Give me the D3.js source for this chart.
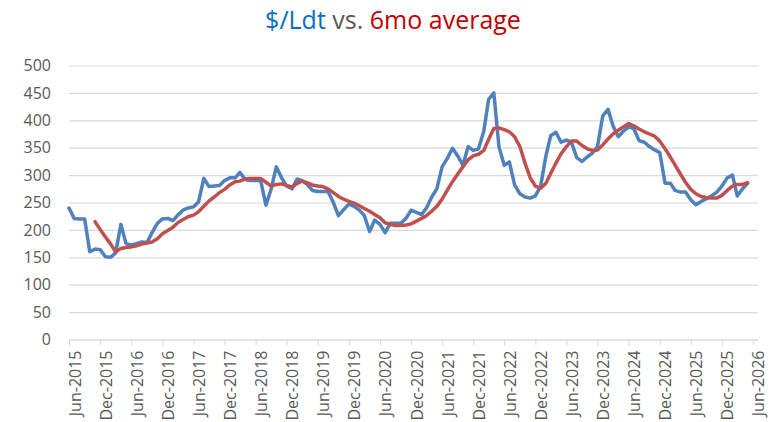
<!DOCTYPE html>
<html>
<head>
<meta charset="utf-8">
<script src="https://cdn.jsdelivr.net/npm/d3@7"></script>
<style>
  body { margin: 0; background: #fff; }
  svg { display: block; font-family: "Open Sans", sans-serif; }
</style>
</head>
<body>
<div id="container"></div>
<script>
// monthly series, first point = Jun-2015
const startMonth = "Jun-2015"
const priceValues = [
  240, 221, 220, 220, 160, 165, 164, 151, 150, 158,
  210, 175, 172, 175, 178, 177, 195, 212, 220, 221,
  217, 227, 236, 240, 242, 251, 294, 279, 280, 281,
  290, 295, 295, 305, 292, 290, 290, 290, 245, 275,
  315, 295, 280, 275, 293, 290, 283, 272, 270, 270,
  270, 250, 226, 237, 247, 243, 236, 226, 197, 218,
  210, 195, 212, 212, 212, 221, 236, 232, 228, 240,
  260, 275, 315, 330, 349, 335, 318, 352, 345, 348,
  380, 438, 450, 352, 318, 324, 282, 266, 260, 258,
  262, 280, 335, 372, 378, 360, 364, 360, 332, 325,
  333, 340, 352, 408, 420, 390, 370, 380, 388, 385,
  363, 360, 352, 346, 341, 285, 285, 272, 269, 269,
  255, 246, 252, 257, 262, 269, 280, 295, 300, 262,
  275, 285
]
const avgValues = [
  null, null, null, null, null, 215, 201, 187, 174, 160,
  166, 168, 169, 171, 174, 176, 178, 184, 193, 199,
  205, 213, 219, 224, 227, 233, 243, 253, 260, 268,
  274, 282, 288, 289, 293, 294, 294, 294, 287, 280,
  283, 284, 281, 278, 285, 289, 286, 282, 280, 279,
  275, 268, 261, 256, 252, 249, 244, 239, 234, 228,
  222, 213, 210, 208, 208, 209, 211, 216, 221, 226,
  234, 243, 256, 272, 288, 302, 315, 328, 335, 338,
  345, 365, 385, 386, 383, 379, 370, 352, 322, 295,
  280, 276, 285, 303, 322, 339, 352, 362, 362, 354,
  348, 345, 346, 355, 366, 375, 382, 388, 394, 390,
  384, 379, 375, 371, 362, 348, 333, 318, 302, 287,
  274, 266, 261, 259, 258, 258, 263, 272, 280, 283,
  283, 286
]
const tickLabels = [
  "Jun-2015", "Dec-2015", "Jun-2016", "Dec-2016", "Jun-2017", "Dec-2017",
  "Jun-2018", "Dec-2018", "Jun-2019", "Dec-2019", "Jun-2020", "Dec-2020",
  "Jun-2021", "Dec-2021", "Jun-2022", "Dec-2022", "Jun-2023", "Dec-2023",
  "Jun-2024", "Dec-2024", "Jun-2025", "Dec-2025", "Jun-2026"
]
const axisEnd = "Jul-2026"
const yTicks = [0, 50, 100, 150, 200, 250, 300, 350, 400, 450, 500]

const width = 771
const height = 422
const margin = {top: 65.5, bottom: 82.5, left: 69, right: 13}

const parse = d3.timeParse("%b-%Y")
const start = parse(startMonth)
const dates = priceValues.map((d, i) => d3.timeMonth.offset(start, i))
const tickDates = tickLabels.map(parse)

const svg = d3.create("svg")
    .attr("width", width)
    .attr("height", height)

const x = d3.scaleTime()
    .domain([start, parse(axisEnd)])
    .range([margin.left, width - margin.right])

const y = d3.scaleLinear()
    .domain([0, 500])
    .range([height - margin.bottom, margin.top])

// title
const title = svg.append("text")
    .attr("x", 393)
    .attr("y", 29)
    .attr("text-anchor", "middle")
    .style("font-size", "25px")
title.append("tspan").attr("fill", "#0070C0").text("$/Ldt")
title.append("tspan").attr("fill", "#595959").text(" vs. ")
title.append("tspan").attr("fill", "#C00000").text("6mo average")

// y grid + labels
const yAxis = svg.append("g")
    .attr("transform", `translate(${margin.left}, 0)`)
    .call(d3.axisLeft(y)
        .tickValues(yTicks)
        .tickSize(-(width - margin.left - margin.right))
        .tickPadding(18))
yAxis.select(".domain").remove()
yAxis.selectAll("line").attr("stroke", "#d9d9d9").attr("stroke-width", 1.2)
yAxis.selectAll("text")
    .attr("fill", "#595959")
    .style("font-size", "16px")
    .style("font-family", "Open Sans")

// x axis
const xAxis = svg.append("g")
    .attr("transform", `translate(0, ${height - margin.bottom})`)
    .call(d3.axisBottom(x)
        .tickValues(tickDates)
        .tickFormat(d3.timeFormat("%b-%Y"))
        .tickSizeInner(6)
        .tickSizeOuter(0))
xAxis.select(".domain").attr("stroke", "#d9d9d9").attr("stroke-width", 1.2)
xAxis.selectAll("line").attr("stroke", "#d9d9d9")
xAxis.selectAll("text")
    .attr("transform", "rotate(-90)")
    .attr("text-anchor", "end")
    .attr("x", -11)
    .attr("y", 11)
    .attr("dy", 0)
    .attr("fill", "#595959")
    .style("font-size", "16px")
    .style("font-family", "Open Sans")

const line = d3.line()
    .defined(d => d[1] != null)
    .x(d => x(d[0]))
    .y(d => y(d[1]))

svg.append("path")
    .datum(dates.map((d, i) => [d, priceValues[i]]))
    .attr("fill", "none")
    .attr("stroke", "#4F81BD")
    .attr("stroke-width", 3.5)
    .attr("stroke-linejoin", "round")
    .attr("stroke-linecap", "round")
    .attr("d", line)

svg.append("path")
    .datum(dates.map((d, i) => [d, avgValues[i]]))
    .attr("fill", "none")
    .attr("stroke", "#C0504D")
    .attr("stroke-width", 3.5)
    .attr("stroke-linejoin", "round")
    .attr("stroke-linecap", "round")
    .attr("d", line)

document.querySelector("#container").appendChild(svg.node())
</script>
</body>
</html>
